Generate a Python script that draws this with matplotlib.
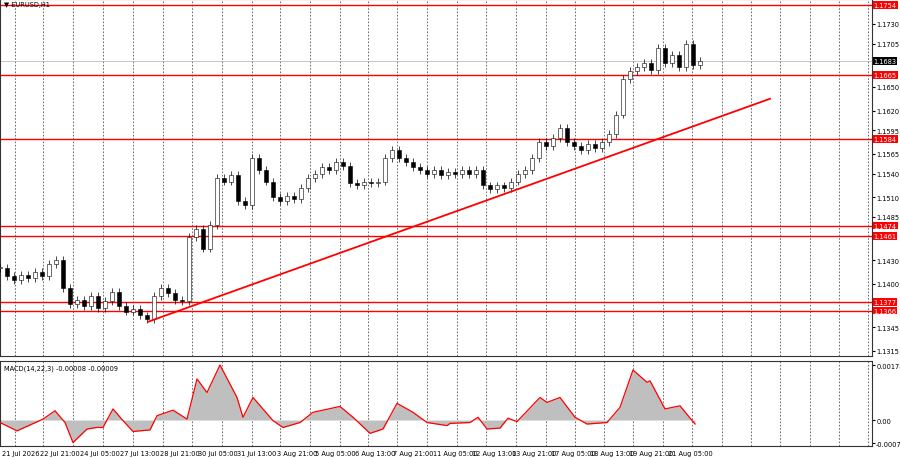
import numpy as np
import matplotlib
matplotlib.use("Agg")
import matplotlib.pyplot as plt

# EURUSD H1 closes, one every 7 px of chart width
closes = [1.1420, 1.1410, 1.1405, 1.1412, 1.1408, 1.1415, 1.1410, 1.1425, 1.1430, 1.1395,
          1.1375, 1.1380, 1.1372, 1.1385, 1.1370, 1.1378, 1.1390, 1.1372, 1.1365, 1.1368,
          1.1360, 1.1355, 1.1385, 1.1395, 1.1388, 1.1380, 1.1378, 1.1460, 1.1470, 1.1445,
          1.1475, 1.1535, 1.1530, 1.1538, 1.1505, 1.1500, 1.1560, 1.1545, 1.1530, 1.1510,
          1.1505, 1.1512, 1.1508, 1.1522, 1.1535, 1.1540, 1.1548, 1.1545, 1.1555, 1.1550,
          1.1528, 1.1525, 1.1530, 1.1528, 1.1530, 1.1560, 1.1570, 1.1560, 1.1555, 1.1548,
          1.1545, 1.1540, 1.1545, 1.1538, 1.1542, 1.1540, 1.1545, 1.1540, 1.1545, 1.1525,
          1.1520, 1.1525, 1.1522, 1.1530, 1.1540, 1.1545, 1.1560, 1.1580, 1.1575, 1.1585,
          1.1598, 1.1580, 1.1575, 1.1570, 1.1578, 1.1572, 1.1580, 1.1590, 1.1615, 1.1660,
          1.1670, 1.1675, 1.1680, 1.1672, 1.1700, 1.1680, 1.1690, 1.1675, 1.1705, 1.1678,
          1.1683]
bar_step = 7

levels = [1.1754, 1.1665, 1.1584, 1.1474, 1.1461, 1.1377, 1.1366]
last_price = 1.1683
trend_x = [148, 770]
trend_y = [1.1352, 1.1635]

price_ticks = [1.1730, 1.1705, 1.1650, 1.1620, 1.1595, 1.1565, 1.1540,
               1.1510, 1.1485, 1.1430, 1.1400, 1.1345, 1.1315]

macd_x = [0, 17, 43, 55, 65, 73, 87, 97, 103, 113, 123, 133, 150, 157, 173, 187, 197, 207,
          220, 237, 243, 253, 273, 283, 300, 313, 340, 353, 370, 383, 397, 413, 427, 447,
          450, 470, 478, 487, 500, 508, 517, 540, 547, 560, 575, 587, 607, 620, 633, 647,
          650, 665, 680, 695]
macd_vals = [-0.00008, -0.00035, 0.00003, 0.00030, -0.00008, -0.00073, -0.00029, -0.00024,
             -0.00024, 0.00036, -0.00002, -0.00037, -0.00032, 0.00014, 0.00032, 0.00003,
             0.00133, 0.00089, 0.00178, 0.00073, 0.00009, 0.00073, -0.00002, -0.00024,
             -0.00008, 0.00025, 0.00044, 0.00009, -0.00043, -0.00029, 0.00054, 0.00025,
             -0.00008, -0.00018, -0.00011, -0.00008, 0.00009, -0.00029, -0.00026, 0.00006,
             -0.00005, 0.00073, 0.00057, 0.00073, 0.00009, -0.00013, -0.00008, 0.00041,
             0.00162, 0.00122, 0.00127, 0.00036, 0.00046, -0.00013]

date_labels = ["21 Jul 2026", "22 Jul 21:00", "24 Jul 05:00", "27 Jul 13:00", "28 Jul 21:00",
               "30 Jul 05:00", "31 Jul 13:00", "3 Aug 21:00", "5 Aug 05:00", "6 Aug 13:00",
               "7 Aug 21:00", "11 Aug 05:00", "12 Aug 13:00", "13 Aug 21:00", "17 Aug 05:00",
               "18 Aug 13:00", "19 Aug 21:00", "21 Aug 05:00"]
label_x = [2, 40, 80, 120, 160, 198, 237, 277, 315, 355, 393, 433, 472, 512, 551, 590, 629, 668]
grid_x = [15, 43, 73, 103, 133, 163, 192, 222, 252, 280, 310, 340, 368, 397, 427, 457,
          486, 516, 546, 575, 604, 633, 663, 692, 722, 751, 780, 810, 839, 868]

fig = plt.figure(figsize=(9, 4.6), dpi=100)
ax = fig.add_axes([0.0, 1 - 357 / 460, 872 / 900, 357 / 460])
ax2 = fig.add_axes([0.0, 1 - 447 / 460, 872 / 900, 85 / 460])
XMAX = 872

for a in (ax, ax2):
    a.set_xlim(0, XMAX)
    for g in grid_x:
        a.axvline(g, color="#555555", lw=0.6, ls=(0, (2, 2)), zorder=0)
    a.yaxis.tick_right()
    a.tick_params(axis="y", labelsize=4.8, length=2, pad=1)
    a.set_xticks([])
    for s in a.spines.values():
        s.set_color("#333333")
        s.set_linewidth(0.8)

# candles: open = previous close
cx = np.arange(len(closes)) * bar_step
opens = [closes[0]] + closes[:-1]
for x, o, c in zip(cx, opens, closes):
    lo, hi = min(o, c), max(o, c)
    ax.vlines(x, lo - 0.0005, hi + 0.0005, color="black", lw=0.5, zorder=3)
    ax.bar(x, max(hi - lo, 0.00012), bottom=lo, width=3.5, color="white" if c >= o else "black",
           edgecolor="black", lw=0.4, zorder=4)

for lv in levels:
    ax.axhline(lv, color="red", lw=1.0, zorder=2)
    ax.text(1.002, lv, f"{lv:.4f}", transform=ax.get_yaxis_transform(), fontsize=4.8,
            color="white", va="center", ha="left",
            bbox=dict(boxstyle="square,pad=0.1", fc="red", ec="none"), clip_on=False)
ax.axhline(last_price, color="#bbbbbb", lw=0.6, zorder=1)
ax.text(1.002, last_price, f"{last_price:.4f}", transform=ax.get_yaxis_transform(),
        fontsize=4.8, color="white", va="center", ha="left",
        bbox=dict(boxstyle="square,pad=0.1", fc="black", ec="none"), clip_on=False)
ax.plot(trend_x, trend_y, color="red", lw=1.3, zorder=5)

ax.set_ylim(1.13086, 1.17616)
ax.set_yticks(price_ticks)
ax.set_yticklabels([f"{t:.4f}" for t in price_ticks])
ax.text(0.005, 0.995, "▼ EURUSD,H1", transform=ax.transAxes, fontsize=4.8, va="top")

# MACD panel
ax2.fill_between(macd_x, 0, macd_vals, color="#bfbfbf", lw=0, zorder=2)
ax2.plot(macd_x, macd_vals, color="red", lw=0.9, zorder=3)
ax2.set_ylim(-0.00084, 0.00191)
ax2.set_yticks([0.00178, 0.0, -0.00075])
ax2.set_yticklabels(["0.00178", "0.00", "-0.00075"])
ax2.text(0.005, 0.96, "MACD(14,22,3) -0.00008 -0.00009", transform=ax2.transAxes,
         fontsize=4.8, va="top")

for lab, x in zip(date_labels, label_x):
    fig.text(x / 900, 1 - 454 / 460, lab, fontsize=4.8, ha="left", va="center")

fig.savefig("out.png", dpi=100, facecolor="white")
